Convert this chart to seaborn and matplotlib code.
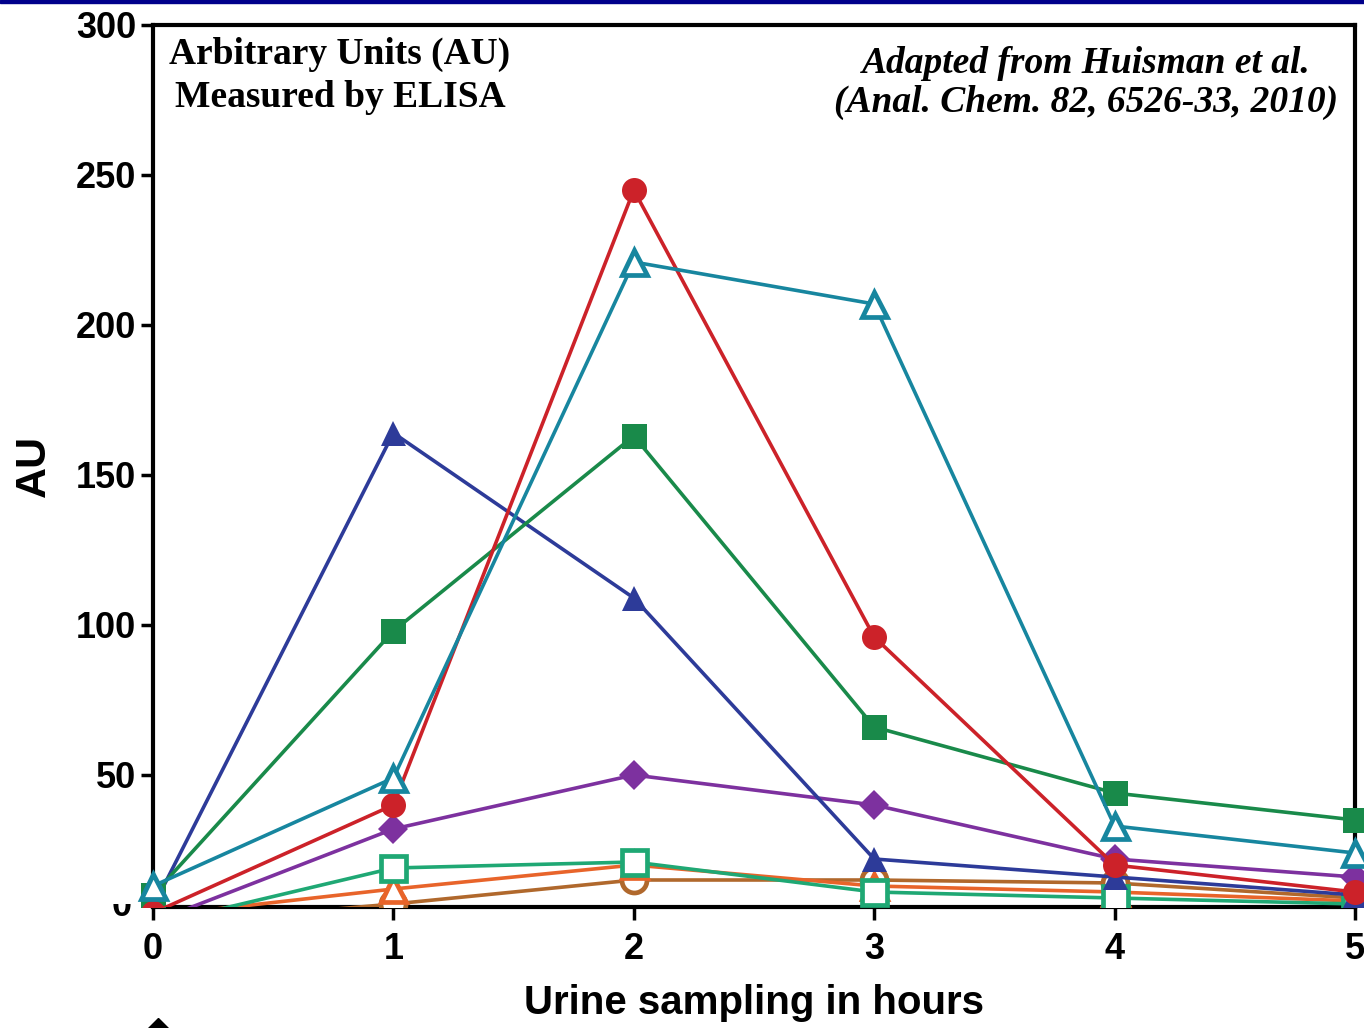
import matplotlib
matplotlib.use("Agg")
import matplotlib.pyplot as plt
from matplotlib.patches import Rectangle
from matplotlib.lines import Line2D
import pandas as pd
import seaborn as sns

# data
hours = [0, 1, 2, 3, 4, 5]
red_circle = [4, 40, 245, 96, 20, 11]
teal_open_tri = [13, 49, 221, 207, 33, 24]
blue_tri = [6, 164, 109, 22, 16, 10]
green_square = [10, 98, 163, 66, 44, 35]
purple_diamond = [1, 32, 50, 40, 22, 16]
green_open_square = [0, 19, 21, 11, 9, 7]
orange_open_tri = [3, 12, 20, 13, 11, 8]
brown_open_circle = [0, 7, 15, 15, 14, 9]

yticks = [50, 100, 150, 200, 250, 300]

sns.set_style('ticks')
plt.rcParams['font.family'] = ['Liberation Sans', 'DejaVu Sans']
plt.rcParams['text.color'] = 'black'
plt.rcParams['axes.labelcolor'] = 'black'

fig = plt.figure(figsize=(13.64, 10.28), dpi=100)
ax = fig.add_axes([153 / 1364, 121 / 1028, 1202 / 1364, 882 / 1028])

# (values, colour, marker, filled)
series = [
    (brown_open_circle, '#b0682c', 'o', False),
    (orange_open_tri, '#e8642a', '^', False),
    (green_open_square, '#1fa874', 's', False),
    (purple_diamond, '#7d319f', 'D', True),
    (blue_tri, '#2d3b99', '^', True),
    (green_square, '#198a4a', 's', True),
    (red_circle, '#cc2229', 'o', True),
    (teal_open_tri, '#17869f', '^', False),
]

for vals, col, mk, filled in series:
    df = pd.DataFrame({'hours': hours, 'AU': vals})
    ms = 18 if mk != 'D' else 15
    sns.lineplot(data=df, x='hours', y='AU', ax=ax, color=col, linewidth=2.6,
                 marker=mk, markersize=ms,
                 markerfacecolor=col if filled else 'white',
                 markeredgecolor=col, markeredgewidth=0 if filled else 3.4,
                 zorder=3)

# markers may spill left/right but are cut at the x axis
clip = Rectangle((-0.1, 0), 1.2, 1.2, transform=ax.transAxes, facecolor='none')
for ln in ax.lines:
    ln.set_clip_path(clip)

ax.set_xlim(0, 5)
ax.set_ylim(6, 300)
ax.set_xticks(hours)
ax.set_yticks(yticks)
for s in ax.spines.values():
    s.set_linewidth(3)
    s.set_color('black')
ax.tick_params(axis='both', width=2.5, length=9, labelsize=26, colors='black')
ax.tick_params(axis='x', pad=9)
ax.tick_params(axis='y', pad=3)
for lab in ax.get_xticklabels() + ax.get_yticklabels():
    lab.set_fontweight('bold')

ax.set_xlabel('Urine sampling in hours', fontsize=29, fontweight='bold', labelpad=12)
ax.set_ylabel('AU', fontsize=31, fontweight='bold', labelpad=16)

# half hidden "0" on the y axis
zero = fig.text(122 / 1364, 1 - 907 / 1028, '0', fontsize=26, fontweight='bold',
                ha='center', va='center')
zero.set_clip_path(Rectangle((0, 0), 1, 1 - 904 / 1028, transform=fig.transFigure,
                             facecolor='none'))

fig.text(340 / 1364, 1 - 76 / 1028, 'Arbitrary Units (AU)\nMeasured by ELISA',
         family='Liberation Serif', fontweight='bold', fontsize=27,
         ha='center', va='center', multialignment='center', linespacing=1.32)
fig.text(1086 / 1364, 1 - 83 / 1028, 'Adapted from Huisman et al.\n(Anal. Chem. 82, 6526-33, 2010)',
         family='Liberation Serif', fontweight='bold', style='italic', fontsize=27,
         ha='center', va='center', multialignment='center', linespacing=1.16)

# navy rule along the top and a cut-off legend diamond at the bottom
fig.add_artist(Rectangle((0, 1 - 3 / 1028), 1, 3 / 1028, transform=fig.transFigure,
                         color='#00008b'))
fig.add_artist(Line2D([158 / 1364], [1 - 1042 / 1028], marker='D', markersize=24,
                      color='black', transform=fig.transFigure, clip_on=False))

fig.savefig('out.png', dpi=100)
